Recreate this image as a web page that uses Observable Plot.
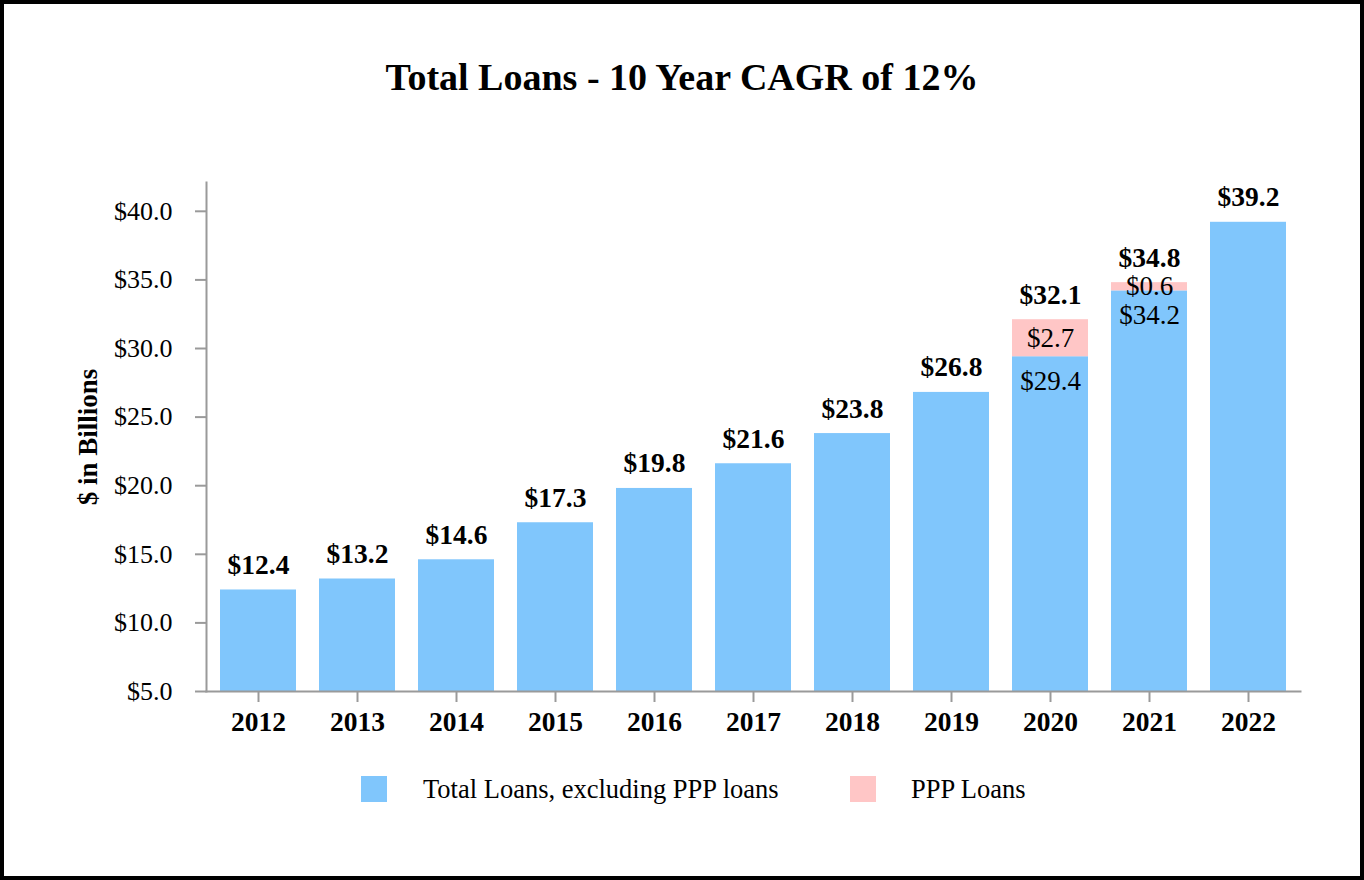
<!DOCTYPE html>
<html>
<head>
<meta charset="utf-8">
<script src="https://cdn.jsdelivr.net/npm/d3@7"></script>
<script src="https://cdn.jsdelivr.net/npm/@observablehq/plot@0.6"></script>
<style>
  html, body { margin: 0; padding: 0; background: #fff; }
  #wrap { position: relative; width: 1364px; height: 880px; overflow: hidden; background: #fff;
          font-family: "Liberation Serif", "DejaVu Serif", serif; color: #000; }
  #border { position: absolute; left: 0; top: 0; width: 1364px; height: 880px; box-sizing: border-box;
            border: 4px solid #000; pointer-events: none; }
  #title { position: absolute; left: 0; top: 57px; width: 1364px; text-align: center;
           font: bold 38px/40px "Liberation Serif", serif; }
  #chart { position: absolute; left: 0; top: 0; }
  #ylabel { position: absolute; left: 88px; top: 437px; transform: translate(-50%, -50%) rotate(-90deg);
            font: bold 27px/30px "Liberation Serif", serif; white-space: nowrap; }
  .lg-sw { position: absolute; width: 26px; height: 26px; top: 776px; }
  .lg-tx { position: absolute; top: 772px; font: 26.5px/34px "Liberation Serif", serif; white-space: nowrap; }
</style>
</head>
<body>
<div id="wrap">
  <div id="chart"></div>
  <div id="title">Total Loans - 10 Year CAGR of 12%</div>
  <div id="ylabel">$ in Billions</div>
  <div class="lg-sw" style="left:361px;background:#80C6FC"></div>
  <div class="lg-tx" style="left:423px">Total Loans, excluding PPP loans</div>
  <div class="lg-sw" style="left:850px;background:#FFC6C6"></div>
  <div class="lg-tx" style="left:911px">PPP Loans</div>
  <div id="border"></div>
</div>
<script>
const years = ["2012","2013","2014","2015","2016","2017","2018","2019","2020","2021","2022"];
const baseLoans = [12.4, 13.2, 14.6, 17.3, 19.8, 21.6, 23.8, 26.8, 29.4, 34.2, 39.2];
const pppLoans  = [0, 0, 0, 0, 0, 0, 0, 0, 2.7, 0.6, 0];
const totals    = [12.4, 13.2, 14.6, 17.3, 19.8, 21.6, 23.8, 26.8, 32.1, 34.8, 39.2];
const yTicks = [5, 10, 15, 20, 25, 30, 35, 40];

const BLUE = "#80C6FC", PINK = "#FFC6C6";

const rows = years.map((y, i) => ({year: y, base: baseLoans[i], ppp: pppLoans[i], top: baseLoans[i] + pppLoans[i], total: totals[i]}));
const pppRows = rows.filter(d => d.ppp > 0);
const fmt = v => "$" + v.toFixed(1);

const chart = Plot.plot({
  width: 1364,
  height: 760,
  marginLeft: 206,
  marginRight: 64,
  marginTop: 182,
  marginBottom: 69,
  style: {fontFamily: "'Liberation Serif', serif", background: "transparent", color: "#000"},
  x: {domain: years, paddingInner: 0.236, paddingOuter: 0.118, axis: null},
  y: {domain: [5, 42.1], axis: null},
  marks: [
    Plot.barY(rows, {x: "year", y1: 0, y2: "base", fill: BLUE, clip: true}),
    Plot.barY(pppRows, {x: "year", y1: "base", y2: "top", fill: PINK, clip: true}),
    Plot.frame({anchor: "left", stroke: "#9a9a9a", strokeWidth: 2}),
    Plot.frame({anchor: "bottom", stroke: "#9a9a9a", strokeWidth: 2}),
    Plot.axisY({ticks: yTicks, tickFormat: fmt, tickSize: 11, tickPadding: 23, fontSize: 26,
                stroke: "#9a9a9a", strokeWidth: 2, fill: "#000", label: null}),
    Plot.axisX({tickSize: 11, tickPadding: 9, fontSize: 27.5, fontWeight: "bold",
                stroke: "#9a9a9a", strokeWidth: 2, fill: "#000", label: null}),
    Plot.text(rows, {x: "year", y: "top", text: d => fmt(d.total), fontWeight: "bold", fontSize: 27.5,
                     lineAnchor: "bottom", dy: -16, fill: "#000"}),
    Plot.text(pppRows, {x: "year", y: d => d.base + d.ppp / 2, text: d => fmt(d.ppp), fontSize: 27,
                        lineAnchor: "middle", fill: "#000"}),
    Plot.text(pppRows, {x: "year", y: "base", text: d => fmt(d.base), fontSize: 27,
                        lineAnchor: "top", dy: 14, fill: "#000"})
  ]
});
document.getElementById("chart").appendChild(chart);
</script>
</body>
</html>
